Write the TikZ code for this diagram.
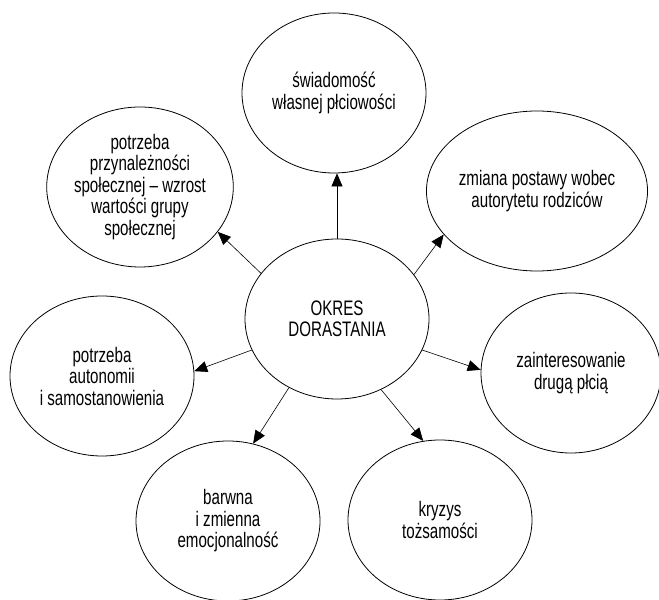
\documentclass[tikz,border=0pt]{standalone}
\usepackage{fontspec}
\setmainfont{Liberation Sans}[FakeStretch=0.72]
\usepackage{tikz}
\usetikzlibrary{shapes,arrows.meta}
\tikzstyle{bubble} = [ellipse, draw, line width=0.8pt, align=center,
    minimum width=184pt, minimum height=160pt, inner sep=0pt,
    font=\fontsize{21}{21.5}\selectfont]
\tikzstyle{line} = [draw, line width=0.6pt, -{Triangle[length=13pt,width=11pt]}]

\begin{document}
\begin{tikzpicture}[x=1pt, y=1pt]
    \useasboundingbox (0,0) rectangle (659,600);
    % Place nodes
    \node [bubble] (ctr) at (337,281) {OKRES\\DORASTANIA};
    \node [bubble] (top) at (334,507) {świadomość\\własnej płciowości};
    \node [bubble] (tl) at (140,413) {potrzeba\\przynależności\\społecznej – wzrost\\wartości grupy\\społecznej};
    \node [bubble] (tr) at (537,409) {zmiana postawy wobec\\autorytetu rodziców};
    \node [bubble] (lft) at (102,224) {potrzeba\\autonomii\\i samostanowienia};
    \node [bubble, minimum width=180pt] (rgt) at (571,227) {zainteresowanie\\drugą płcią};
    \node [bubble] (bl) at (228,79) {barwna\\i zmienna\\emocjonalność};
    \node [bubble] (br) at (440,80) {kryzys\\tożsamości};

    % Draw edges
    \path [line] (ctr.north) -- (ctr.north |- top.south);
    \path [line] (ctr.149) -- (tl.-30);
    \path [line] (ctr.30) -- (tr.-155);
    \path [line] (ctr.200) -- (lft.3);
    \path [line] (ctr.-20) -- (rgt.178);
    \path [line] (ctr.-125) -- (bl.72);
    \path [line] (ctr.-58) -- (br.102);
\end{tikzpicture}
\end{document}
